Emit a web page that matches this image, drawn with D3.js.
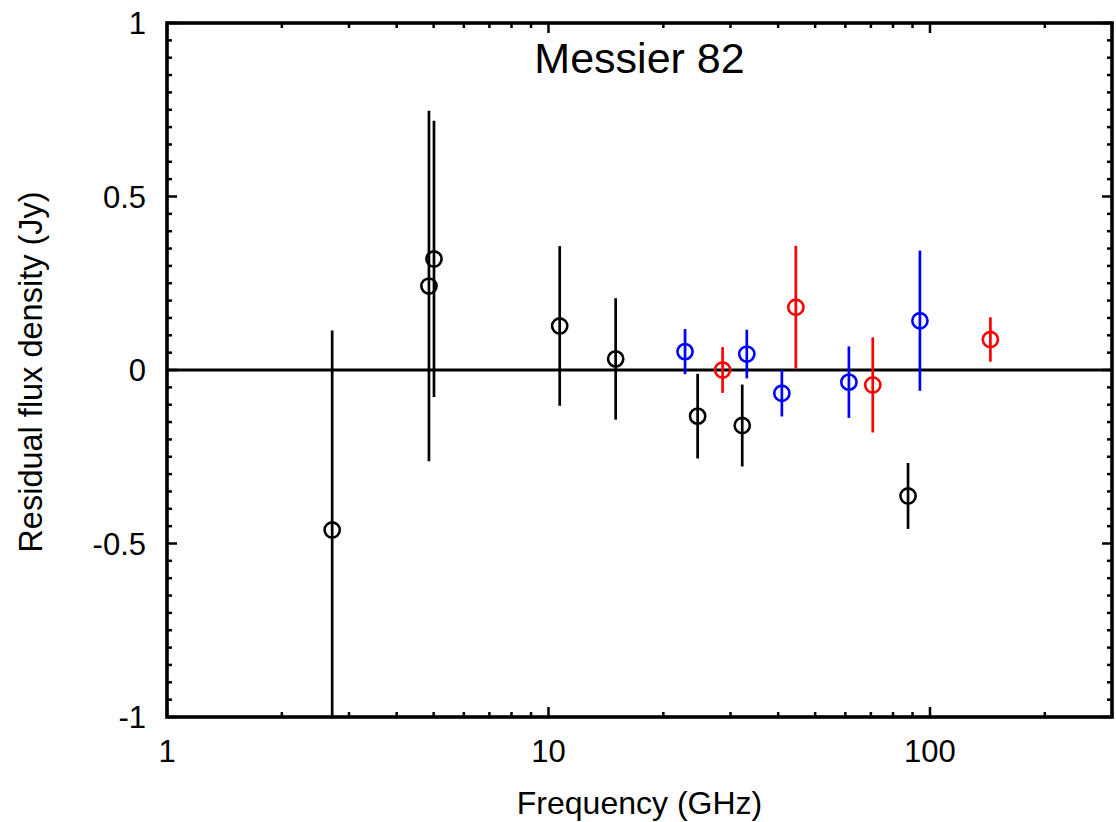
<!DOCTYPE html>
<html>
<head>
<meta charset="utf-8">
<script src="https://cdn.jsdelivr.net/npm/d3@7"></script>
<style>
  html, body { margin: 0; padding: 0; background: #fff; }
  svg { display: block; }
  text { font-family: "Liberation Sans", Arial, Helvetica, sans-serif; fill: #000; }
</style>
</head>
<body>
<svg id="chart" width="1116" height="822"></svg>
<script>
// ---- data ----
const title = "Messier 82";
const xLabel = "Frequency (GHz)";
const yLabel = "Residual flux density (Jy)";

const blackFreq = [2.71, 4.86, 5.01, 10.7, 15.0, 24.6, 32.2, 87.6];
const blackVal  = [-0.461, 0.242, 0.320, 0.127, 0.032, -0.133, -0.160, -0.363];
const blackErr  = [0.575, 0.505, 0.398, 0.230, 0.175, 0.122, 0.118, 0.095];

const blueFreq = [22.8, 33.1, 40.9, 61.3, 94.1];
const blueVal  = [0.053, 0.046, -0.067, -0.035, 0.142];
const blueErr  = [0.065, 0.070, 0.067, 0.103, 0.202];

const redFreq = [28.6, 44.5, 70.8, 144];
const redVal  = [0.000, 0.181, -0.043, 0.088];
const redErr  = [0.066, 0.177, 0.137, 0.064];

const xMajorTicks = [1, 10, 100];
const xMinorTicks = [2,3,4,5,6,7,8,9,20,30,40,50,60,70,80,90,200,300];
const yMajorTicks = [-1, -0.5, 0, 0.5, 1];
const yTickLabels = ["-1", "-0.5", "0", "0.5", "1"];
const yMinorTicks = d3.range(-1, 1.0001, 0.05).map(v => +v.toFixed(2));

// ---- layout ----
const L = 167, R = 1112, T = 23, B = 717;
const svg = d3.select("#chart");
const x = d3.scaleLog().domain([1, 300]).range([L, R]);
const y = d3.scaleLinear().domain([-1, 1]).range([B, T]);

svg.append("defs").append("clipPath").attr("id", "clip")
  .append("rect").attr("x", L).attr("y", T).attr("width", R - L).attr("height", B - T);

const fontSize = 31;

// ticks (inward on all four sides)
const majLen = 10, minLen = 5;
const tickG = svg.append("g").attr("stroke", "#000").attr("stroke-width", 2.5);
xMajorTicks.concat(xMinorTicks).forEach(v => {
  const len = xMajorTicks.includes(v) ? majLen : minLen;
  const px = x(v);
  tickG.append("line").attr("x1", px).attr("x2", px).attr("y1", B).attr("y2", B - len);
  tickG.append("line").attr("x1", px).attr("x2", px).attr("y1", T).attr("y2", T + len);
});
yMinorTicks.forEach(v => {
  const isMaj = Math.abs(v * 2 - Math.round(v * 2)) < 1e-6;
  const len = isMaj ? majLen : minLen;
  const py = y(v);
  tickG.append("line").attr("x1", L).attr("x2", L + len).attr("y1", py).attr("y2", py);
  tickG.append("line").attr("x1", R).attr("x2", R - len).attr("y1", py).attr("y2", py);
});

// tick labels
svg.append("g").selectAll("text").data(xMajorTicks).join("text")
  .attr("x", d => x(d)).attr("y", 762)
  .attr("text-anchor", "middle").attr("font-size", fontSize)
  .text(d => String(d));

svg.append("g").selectAll("text").data(yMajorTicks).join("text")
  .attr("x", 146).attr("y", d => y(d)).attr("dy", "0.36em")
  .attr("text-anchor", "end").attr("font-size", fontSize)
  .text((d, i) => yTickLabels[i]);

// zero line
svg.append("line").attr("x1", L).attr("x2", R).attr("y1", y(0)).attr("y2", y(0))
  .attr("stroke", "#000").attr("stroke-width", 3);

// data
const series = [
  { f: blackFreq, v: blackVal, e: blackErr, c: "#000000" },
  { f: blueFreq, v: blueVal, e: blueErr, c: "#0000ff" },
  { f: redFreq, v: redVal, e: redErr, c: "#ff0000" }
];
const dataG = svg.append("g").attr("clip-path", "url(#clip)");
series.forEach(s => {
  const pts = s.f.map((f, i) => ({ f, v: s.v[i], e: s.e[i] }));
  const g = dataG.append("g");
  g.selectAll("line").data(pts).join("line")
    .attr("x1", d => x(d.f)).attr("x2", d => x(d.f))
    .attr("y1", d => y(d.v - d.e)).attr("y2", d => y(d.v + d.e))
    .attr("stroke", s.c).attr("stroke-width", 2.7);
  g.selectAll("circle").data(pts).join("circle")
    .attr("cx", d => x(d.f)).attr("cy", d => y(d.v)).attr("r", 7.6)
    .attr("fill", "none").attr("stroke", s.c).attr("stroke-width", 2.6);
});

// frame
svg.append("rect").attr("x", L).attr("y", T).attr("width", R - L).attr("height", B - T)
  .attr("fill", "none").attr("stroke", "#000").attr("stroke-width", 3.6);

// titles
svg.append("text").attr("x", (L + R) / 2).attr("y", 73)
  .attr("text-anchor", "middle").attr("font-size", 43).text(title);
svg.append("text").attr("x", (L + R) / 2).attr("y", 814)
  .attr("text-anchor", "middle").attr("font-size", 32).text(xLabel);
svg.append("text").attr("transform", `translate(42,372) rotate(-90)`)
  .attr("text-anchor", "middle").attr("font-size", 32.5).text(yLabel);
</script>
</body>
</html>
